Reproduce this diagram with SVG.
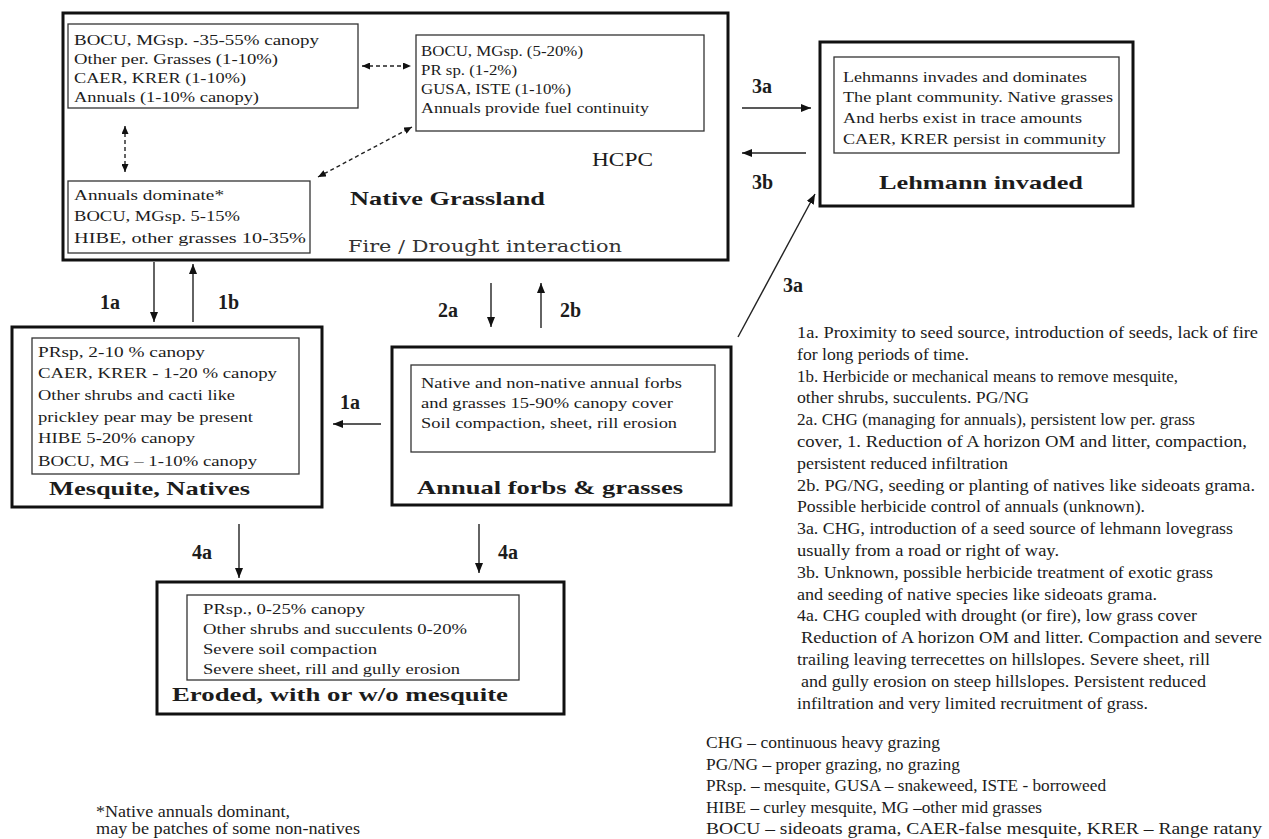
<svg xmlns="http://www.w3.org/2000/svg" width="1269" height="839" viewBox="0 0 1269 839">
<style>
.t{font-family:"Liberation Serif","Times New Roman",serif;font-size:15.5px;fill:#1c1c1c}
.n{font-family:"Liberation Serif","Times New Roman",serif;font-size:16px;fill:#1c1c1c}
.h{font-family:"Liberation Serif","Times New Roman",serif;font-size:19px;font-weight:bold;fill:#1c1c1c}
.l{font-family:"Liberation Serif","Times New Roman",serif;font-size:20px;font-weight:bold;fill:#1c1c1c}
.fd{font-family:"DejaVu Serif",serif;font-size:17px;fill:#333}
.ob{fill:#fff;stroke:#111;stroke-width:3}
.ib{fill:none;stroke:#333;stroke-width:1.3}
.c{stroke:#222;stroke-width:1.4;fill:none}
.d{stroke:#222;stroke-width:1.4;fill:none;stroke-dasharray:4 3}
</style>
<defs>
<marker id="ah" markerUnits="userSpaceOnUse" markerWidth="10" markerHeight="8" refX="10" refY="4" orient="auto"><path d="M0,0 L10,4 L0,8 z" fill="#111"/></marker>
<marker id="dh" markerUnits="userSpaceOnUse" markerWidth="8" markerHeight="7" refX="8" refY="3.5" orient="auto-start-reverse"><path d="M0,0 L8,3.5 L0,7 z" fill="#111"/></marker>
</defs>
<rect width="1269" height="839" fill="#fff"/>

<g id="native-grassland">
<rect class="ob" x="63" y="13" width="665" height="247"/>
<g id="ng-box-a">
<rect class="ib" x="68" y="24" width="290" height="84"/>
<text class="t" x="74" y="45" textLength="245" lengthAdjust="spacingAndGlyphs">BOCU, MGsp. -35-55%  canopy</text>
<text class="t" x="74" y="64" textLength="204" lengthAdjust="spacingAndGlyphs">Other per. Grasses (1-10%)</text>
<text class="t" x="74" y="83" textLength="172" lengthAdjust="spacingAndGlyphs">CAER, KRER  (1-10%)</text>
<text class="t" x="74" y="102" textLength="185" lengthAdjust="spacingAndGlyphs">Annuals (1-10% canopy)</text>
</g>
<g id="ng-box-b">
<rect class="ib" x="416" y="35" width="288" height="96"/>
<text class="t" x="421" y="56" textLength="162" lengthAdjust="spacingAndGlyphs">BOCU, MGsp.  (5-20%)</text>
<text class="t" x="421" y="75" textLength="96" lengthAdjust="spacingAndGlyphs">PR sp. (1-2%)</text>
<text class="t" x="421" y="94" textLength="150" lengthAdjust="spacingAndGlyphs">GUSA, ISTE (1-10%)</text>
<text class="t" x="421" y="113" textLength="228" lengthAdjust="spacingAndGlyphs">Annuals provide fuel continuity</text>
</g>
<g id="ng-box-c">
<rect class="ib" x="68" y="181" width="242" height="72"/>
<text class="t" x="74" y="200" textLength="150" lengthAdjust="spacingAndGlyphs">Annuals dominate*</text>
<text class="t" x="74" y="221" textLength="166" lengthAdjust="spacingAndGlyphs">BOCU, MGsp. 5-15%</text>
<text class="t" x="74" y="243" textLength="232" lengthAdjust="spacingAndGlyphs">HIBE, other grasses 10-35%</text>
</g>
<text class="h" x="350" y="205" textLength="195" lengthAdjust="spacingAndGlyphs">Native Grassland</text>
<text class="t" x="592" y="166" style="font-size:19px" textLength="61" lengthAdjust="spacingAndGlyphs">HCPC</text>
<text class="fd" x="348" y="252" textLength="274" lengthAdjust="spacingAndGlyphs">Fire / Drought interaction</text>
</g>

<g id="lehmann-invaded">
<rect class="ob" x="820" y="42" width="313" height="164"/>
<rect class="ib" x="834" y="57" width="285" height="96"/>
<text class="t" x="843" y="82" textLength="244" lengthAdjust="spacingAndGlyphs">Lehmanns invades and dominates</text>
<text class="t" x="843" y="102" textLength="270" lengthAdjust="spacingAndGlyphs">The plant community. Native grasses</text>
<text class="t" x="843" y="123" textLength="239" lengthAdjust="spacingAndGlyphs">And herbs exist in trace amounts</text>
<text class="t" x="843" y="144" textLength="263" lengthAdjust="spacingAndGlyphs">CAER, KRER persist in community</text>
<text class="h" x="879" y="189" textLength="204" lengthAdjust="spacingAndGlyphs">Lehmann invaded</text>
</g>

<g id="mesquite-natives">
<rect class="ob" x="12" y="327" width="310" height="180"/>
<rect class="ib" x="32" y="338" width="267" height="136"/>
<text class="t" x="38" y="357" textLength="167" lengthAdjust="spacingAndGlyphs">PRsp, 2-10 %  canopy</text>
<text class="t" x="38" y="378" textLength="239" lengthAdjust="spacingAndGlyphs">CAER, KRER - 1-20 % canopy</text>
<text class="t" x="38" y="400" textLength="197" lengthAdjust="spacingAndGlyphs">Other shrubs and cacti like</text>
<text class="t" x="38" y="422" textLength="215" lengthAdjust="spacingAndGlyphs">prickley pear may be present</text>
<text class="t" x="38" y="443" textLength="157" lengthAdjust="spacingAndGlyphs">HIBE 5-20% canopy</text>
<text class="t" x="38" y="466" textLength="219" lengthAdjust="spacingAndGlyphs">BOCU, MG – 1-10% canopy</text>
<text class="h" x="49" y="495" textLength="201" lengthAdjust="spacingAndGlyphs">Mesquite, Natives</text>
</g>

<g id="annual-forbs-grasses">
<rect class="ob" x="392" y="347" width="339" height="158"/>
<rect class="ib" x="411" y="365" width="304" height="87"/>
<text class="t" x="421" y="388" textLength="261" lengthAdjust="spacingAndGlyphs">Native and non-native annual forbs</text>
<text class="t" x="421" y="408" textLength="252" lengthAdjust="spacingAndGlyphs">and grasses 15-90% canopy cover</text>
<text class="t" x="421" y="428" textLength="256" lengthAdjust="spacingAndGlyphs">Soil compaction, sheet, rill erosion</text>
<text class="h" x="417" y="494" textLength="266" lengthAdjust="spacingAndGlyphs">Annual forbs &amp; grasses</text>
</g>

<g id="eroded">
<rect class="ob" x="157" y="582" width="407" height="132"/>
<rect class="ib" x="187" y="595" width="332" height="85"/>
<text class="t" x="203" y="614" textLength="162" lengthAdjust="spacingAndGlyphs">PRsp., 0-25% canopy</text>
<text class="t" x="203" y="634" textLength="264" lengthAdjust="spacingAndGlyphs">Other shrubs and succulents 0-20%</text>
<text class="t" x="203" y="654" textLength="174" lengthAdjust="spacingAndGlyphs">Severe soil compaction</text>
<text class="t" x="203" y="674" textLength="257" lengthAdjust="spacingAndGlyphs">Severe sheet, rill and gully erosion</text>
<text class="h" x="172" y="701" textLength="336" lengthAdjust="spacingAndGlyphs">Eroded, with or w/o mesquite</text>
</g>

<g id="connectors">
<line class="c" x1="154" y1="262" x2="154" y2="322" marker-end="url(#ah)"/>
<line class="c" x1="193" y1="322" x2="193" y2="264" marker-end="url(#ah)"/>
<line class="c" x1="491" y1="283" x2="491" y2="327" marker-end="url(#ah)"/>
<line class="c" x1="541" y1="328" x2="541" y2="283" marker-end="url(#ah)"/>
<line class="c" x1="742" y1="108" x2="811" y2="108" marker-end="url(#ah)"/>
<line class="c" x1="806" y1="153" x2="742" y2="153" marker-end="url(#ah)"/>
<line class="c" x1="738" y1="337" x2="815" y2="194" marker-end="url(#ah)"/>
<line class="c" x1="381" y1="424" x2="333" y2="424" marker-end="url(#ah)"/>
<line class="c" x1="239" y1="524" x2="239" y2="578" marker-end="url(#ah)"/>
<line class="c" x1="479" y1="524" x2="479" y2="573" marker-end="url(#ah)"/>
<line class="d" x1="362" y1="66" x2="411" y2="66" marker-start="url(#dh)" marker-end="url(#dh)"/>
<line class="d" x1="125" y1="126" x2="125" y2="172" marker-start="url(#dh)" marker-end="url(#dh)"/>
<line class="d" x1="318" y1="177" x2="412" y2="127" marker-start="url(#dh)" marker-end="url(#dh)"/>
</g>

<g id="connector-labels">
<text class="l" x="100" y="309">1a</text>
<text class="l" x="218" y="309">1b</text>
<text class="l" x="340" y="409">1a</text>
<text class="l" x="438" y="317">2a</text>
<text class="l" x="560" y="317">2b</text>
<text class="l" x="752" y="93">3a</text>
<text class="l" x="752" y="189">3b</text>
<text class="l" x="783" y="292">3a</text>
<text class="l" x="192" y="559">4a</text>
<text class="l" x="498" y="559">4a</text>
</g>

<g id="notes">
<text class="n" x="797" y="338" textLength="461" lengthAdjust="spacingAndGlyphs">1a. Proximity to seed source, introduction of seeds, lack of fire</text>
<text class="n" x="797" y="359.8" textLength="172" lengthAdjust="spacingAndGlyphs">for long periods of time.</text>
<text class="n" x="797" y="381.6" textLength="381" lengthAdjust="spacingAndGlyphs">1b. Herbicide or mechanical means to remove mesquite,</text>
<text class="n" x="797" y="403.4" textLength="232" lengthAdjust="spacingAndGlyphs">other shrubs, succulents. PG/NG</text>
<text class="n" x="797" y="425.2" textLength="398" lengthAdjust="spacingAndGlyphs">2a. CHG (managing for annuals), persistent low per. grass</text>
<text class="n" x="797" y="447" textLength="450" lengthAdjust="spacingAndGlyphs">cover, 1. Reduction of A horizon OM and litter, compaction,</text>
<text class="n" x="797" y="468.8" textLength="211" lengthAdjust="spacingAndGlyphs">persistent reduced infiltration</text>
<text class="n" x="797" y="490.6" textLength="458" lengthAdjust="spacingAndGlyphs">2b. PG/NG, seeding or planting of natives like sideoats grama.</text>
<text class="n" x="797" y="512.4" textLength="348" lengthAdjust="spacingAndGlyphs">Possible herbicide control of annuals (unknown).</text>
<text class="n" x="797" y="534.2" textLength="436" lengthAdjust="spacingAndGlyphs">3a. CHG, introduction of a seed source of lehmann lovegrass</text>
<text class="n" x="797" y="556" textLength="262" lengthAdjust="spacingAndGlyphs">usually from a road or right of way.</text>
<text class="n" x="797" y="577.8" textLength="416" lengthAdjust="spacingAndGlyphs">3b. Unknown, possible herbicide treatment of exotic grass</text>
<text class="n" x="797" y="599.6" textLength="360" lengthAdjust="spacingAndGlyphs">and seeding of native species like sideoats grama.</text>
<text class="n" x="797" y="621.4" textLength="400" lengthAdjust="spacingAndGlyphs">4a. CHG coupled with drought (or fire), low grass cover</text>
<text class="n" x="801" y="643.2" textLength="461" lengthAdjust="spacingAndGlyphs">Reduction of A horizon OM and litter. Compaction and severe</text>
<text class="n" x="797" y="665" textLength="413" lengthAdjust="spacingAndGlyphs">trailing leaving terrecettes on hillslopes. Severe sheet, rill</text>
<text class="n" x="801" y="686.8" textLength="405" lengthAdjust="spacingAndGlyphs">and gully erosion on steep hillslopes. Persistent reduced</text>
<text class="n" x="797" y="708.6" textLength="351" lengthAdjust="spacingAndGlyphs">infiltration and very  limited recruitment of grass.</text>
</g>

<g id="legend">
<text class="n" x="706" y="748" textLength="234" lengthAdjust="spacingAndGlyphs">CHG – continuous heavy grazing</text>
<text class="n" x="706" y="769.5" textLength="254" lengthAdjust="spacingAndGlyphs">PG/NG – proper grazing, no grazing</text>
<text class="n" x="706" y="791" textLength="400" lengthAdjust="spacingAndGlyphs">PRsp. – mesquite, GUSA – snakeweed, ISTE - borroweed</text>
<text class="n" x="706" y="812.5" textLength="336" lengthAdjust="spacingAndGlyphs">HIBE – curley mesquite, MG –other mid grasses</text>
<text class="n" x="706" y="834" textLength="556" lengthAdjust="spacingAndGlyphs">BOCU – sideoats grama, CAER-false mesquite, KRER – Range ratany</text>
</g>

<g id="footnote">
<text class="n" x="96" y="817" textLength="194" lengthAdjust="spacingAndGlyphs">*Native annuals dominant,</text>
<text class="n" x="96" y="834" textLength="264" lengthAdjust="spacingAndGlyphs">may be patches of some non-natives</text>
</g>
</svg>
